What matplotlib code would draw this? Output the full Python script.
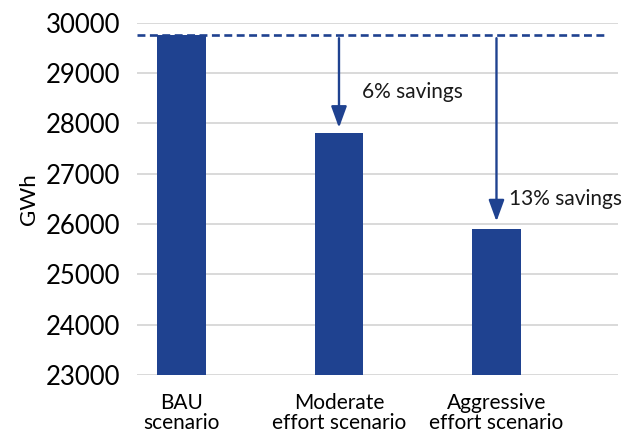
import matplotlib.pyplot as plt

# data
scenarios = ['BAU\nscenario', 'Moderate\neffort scenario', 'Aggressive\neffort scenario']
consumption = [29760, 27800, 25900]  # GWh
savings_labels = ['', '6% savings', '13% savings']

plt.rcParams['font.family'] = ['Lato', 'DejaVu Sans']
blue = '#1F4290'

fig = plt.figure(figsize=(6.31, 4.34), dpi=100)
ax = fig.add_axes([0.217, 0.136, 0.762, 0.812])

x = list(range(len(scenarios)))
ax.bar(x, consumption, width=0.31, color=blue, zorder=3)

# baseline (BAU) dashed line
bau = consumption[0]
ax.axhline(bau, xmin=0, xmax=0.975, color=blue, lw=1.9, ls=(0, (3.0, 1.7)), zorder=4)

# arrows + savings text
text_dx = [0, 0.143, 0.08]
text_y = [0, 28620, 26500]
tip_gap = [0, 110, 150]
for i in range(1, len(consumption)):
    ax.annotate('', xy=(i, consumption[i] + tip_gap[i]), xytext=(i, bau - 70),
                arrowprops=dict(arrowstyle='-|>,head_length=0.93,head_width=0.34',
                                color=blue, lw=1.7, mutation_scale=14,
                                shrinkA=0, shrinkB=0),
                zorder=5)
    ax.text(i + text_dx[i], text_y[i], savings_labels[i], fontsize=15,
            va='center', ha='left', color='#1a1a1a')

ax.set_ylim(23000, 30000)
ax.set_yticks(range(23000, 30001, 1000))
ax.set_xlim(-0.283, 2.77)
ax.set_xticks(x)
ax.set_xticklabels(scenarios, fontsize=15, linespacing=1.0)
ax.tick_params(axis='y', labelsize=18.5, length=0, pad=12)
ax.tick_params(axis='x', length=0, pad=13)
ax.set_ylabel('GWh', fontsize=16, labelpad=5)

ax.grid(axis='y', color='#d0d0d0', lw=1.1, zorder=0)
for s in ax.spines.values():
    s.set_visible(False)

plt.savefig('out.png', dpi=100)
